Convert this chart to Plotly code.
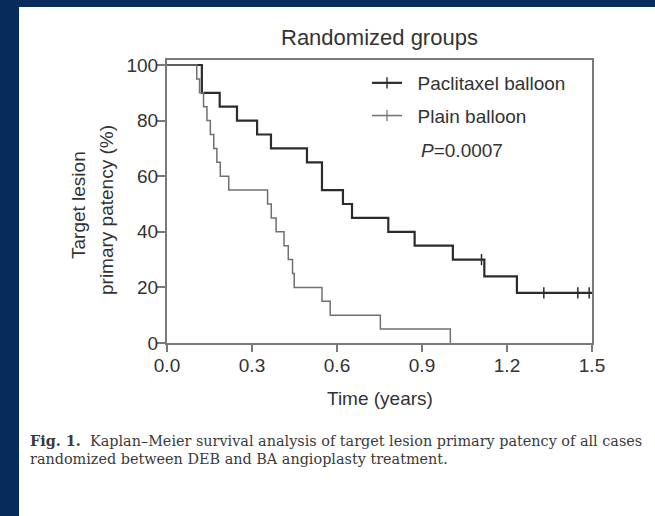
import plotly.graph_objects as go

# ---- data ----
pac_time = [0, 0.123, 0.186, 0.247, 0.318, 0.367, 0.494, 0.547, 0.621, 0.653, 0.781, 0.874, 1.009, 1.12, 1.235, 1.5]
pac_surv = [100, 90, 85, 80, 75, 70, 65, 55, 50, 45, 40, 35, 30, 24, 18, 18]
pac_cens_time = [1.11, 1.33, 1.45, 1.49]
pac_cens_surv = [30, 18, 18, 18]

plain_time = [0, 0.105, 0.115, 0.129, 0.141, 0.153, 0.165, 0.176, 0.188, 0.218, 0.355, 0.368,
              0.385, 0.413, 0.428, 0.443, 0.449, 0.547, 0.576, 0.753, 1.0]
plain_surv = [100, 95, 90, 85, 80, 75, 70, 65, 60, 55, 50, 45, 40, 35, 30, 25, 20, 15, 10, 5, 0]

x_ticks = [0.0, 0.3, 0.6, 0.9, 1.2, 1.5]
x_tick_labels = ["0.0", "0.3", "0.6", "0.9", "1.2", "1.5"]
y_ticks = [0, 20, 40, 60, 80, 100]

series_names = ["Paclitaxel balloon", "Plain balloon"]
p_value_text = "<i>P</i>=0.0007"
title_text = "Randomized groups"
x_title = "Time (years)"
y_title_lines = ["Target lesion", "primary patency (%)"]
caption_lines = [
    "<b>Fig. 1.</b>  Kaplan–Meier survival analysis of target lesion primary patency of all cases",
    "randomized between DEB and BA angioplasty treatment.",
]

# ---- style ----
W, H = 655, 516
L, R, T, B = 167, 63, 60, 173
PW, PH = W - L - R, H - T - B
SANS = "Liberation Sans, Arial, sans-serif"
SERIF = "DejaVu Serif, serif"
TXT = "#333333"
AX = "#7a7a7a"
PAC_C = "#2b2b2b"
PLAIN_C = "#707070"
BLUE = "#072c5c"


def px_x(px):
    return (px - L) / PW


def px_y(py):
    return (H - B - py) / PH


fig = go.Figure()

# curves
fig.add_trace(go.Scatter(x=pac_time, y=pac_surv, mode="lines", line=dict(shape="hv", color=PAC_C, width=2.2),
                         showlegend=False, hoverinfo="skip"))
fig.add_trace(go.Scatter(x=plain_time, y=plain_surv, mode="lines", line=dict(shape="hv", color=PLAIN_C, width=1.5),
                         showlegend=False, hoverinfo="skip"))
# censor marks
fig.add_trace(go.Scatter(x=pac_cens_time, y=pac_cens_surv, mode="markers",
                         marker=dict(symbol="line-ns", size=8, line=dict(color=PAC_C, width=1.5)),
                         showlegend=False, hoverinfo="skip"))
# legend entries
NB = "\u00a0\u00a0"
fig.add_trace(go.Scatter(x=[None], y=[None], mode="lines+markers", name=NB + series_names[0],
                         legendgroup="a",
                         line=dict(color=PAC_C, width=2.2),
                         marker=dict(symbol="line-ns", size=8, line=dict(color=PAC_C, width=1.4))))
fig.add_trace(go.Scatter(x=[None], y=[None], mode="lines+markers", name=NB + series_names[1],
                         legendgroup="b",
                         line=dict(color=PLAIN_C, width=1.5),
                         marker=dict(symbol="line-ns", size=8, line=dict(color=PLAIN_C, width=1.2))))

# background panel strips (blue frame on left and top)
fig.add_shape(type="rect", xref="paper", yref="paper", x0=px_x(0), x1=px_x(19), y0=px_y(H), y1=px_y(0),
              fillcolor=BLUE, line=dict(width=0), layer="below")
fig.add_shape(type="rect", xref="paper", yref="paper", x0=px_x(0), x1=px_x(W), y0=px_y(7), y1=px_y(0),
              fillcolor=BLUE, line=dict(width=0), layer="below")

annotations = [
    dict(text=p_value_text, x=px_x(419), y=px_y(150), xanchor="left", yanchor="middle",
         font=dict(family=SANS, size=19, color=TXT)),
    dict(text=x_title, x=0.5, y=px_y(398), xanchor="center", yanchor="middle",
         font=dict(family=SANS, size=19, color=TXT)),
    dict(text=y_title_lines[0], x=px_x(78), y=px_y(205), xanchor="center", yanchor="middle", textangle=-90,
         font=dict(family=SANS, size=19, color=TXT)),
    dict(text=y_title_lines[1], x=px_x(106), y=px_y(210), xanchor="center", yanchor="middle", textangle=-90,
         font=dict(family=SANS, size=19, color=TXT)),
    dict(text=title_text, x=0.5, y=px_y(37), xanchor="center", yanchor="middle",
         font=dict(family=SANS, size=22, color=TXT)),
    dict(text=caption_lines[0], x=px_x(28), y=px_y(440), xanchor="left", yanchor="middle",
         font=dict(family=SERIF, size=14.4, color="#3a3a3a")),
    dict(text=caption_lines[1], x=px_x(28), y=px_y(459), xanchor="left", yanchor="middle",
         font=dict(family=SERIF, size=14.4, color="#3a3a3a")),
]
for a in annotations:
    a.update(xref="paper", yref="paper", showarrow=False)

fig.update_layout(
    width=W, height=H,
    margin=dict(l=L, r=R, t=T, b=B, pad=0),
    paper_bgcolor="white", plot_bgcolor="white",
    annotations=annotations,
    legend=dict(x=px_x(367), y=px_y(64), xanchor="left", yanchor="top",
                font=dict(family=SANS, size=19, color=TXT), bgcolor="rgba(0,0,0,0)",
                tracegroupgap=5, itemwidth=30),
    showlegend=True,
)
fig.update_xaxes(range=[0, 1.5], tickvals=x_ticks, ticktext=x_tick_labels, showgrid=False, zeroline=False,
                 showline=True, linecolor=AX, linewidth=2, mirror=True,
                 ticks="outside", ticklen=7, tickwidth=1.5, tickcolor=AX, ticklabelstandoff=-3,
                 tickfont=dict(family=SANS, size=19, color=TXT))
fig.update_yaxes(range=[0, 101.8], tickvals=y_ticks, showgrid=False, zeroline=False,
                 showline=True, linecolor=AX, linewidth=2, mirror=True,
                 ticks="outside", ticklen=9, tickwidth=1.5, tickcolor=AX, ticklabelstandoff=-6,
                 tickfont=dict(family=SANS, size=19, color=TXT))

fig.write_html("out.html")
